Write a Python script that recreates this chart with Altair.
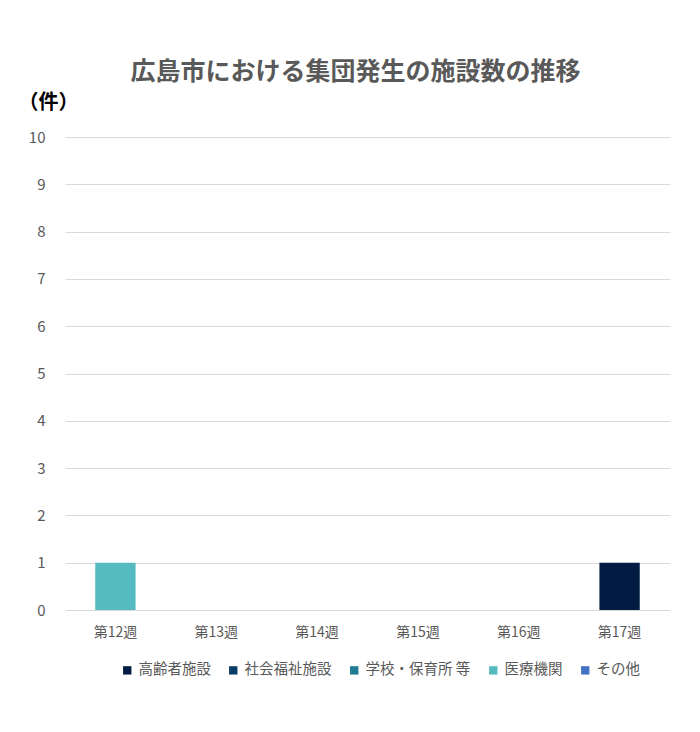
import altair as alt
import pandas as pd

weeks = ["第12週", "第13週", "第14週", "第15週", "第16週", "第17週"]
categories = ["高齢者施設", "社会福祉施設", "学校・保育所 等", "医療機関", "その他"]
colors = ["#021B42", "#0A3D66", "#1F7B91", "#55BBC0", "#4472C4"]
counts = {
    "高齢者施設":     [0, 0, 0, 0, 0, 1],
    "社会福祉施設":   [0, 0, 0, 0, 0, 0],
    "学校・保育所 等": [0, 0, 0, 0, 0, 0],
    "医療機関":       [1, 0, 0, 0, 0, 0],
    "その他":         [0, 0, 0, 0, 0, 0],
}

rows = []
for ci, c in enumerate(categories):
    for w, v in zip(weeks, counts[c]):
        rows.append({"週": w, "種別": c, "件数": v, "順": ci})
df = pd.DataFrame(rows)

FONT = "Noto Sans CJK JP"
GRAY = "#595959"

chart = alt.Chart(df).mark_bar().encode(
    x=alt.X("週:N", sort=weeks, title=None,
            scale=alt.Scale(paddingInner=0.6, paddingOuter=0.3),
            axis=alt.Axis(labelAngle=0, labelFontSize=14, labelColor=GRAY,
                          labelFont=FONT, ticks=False, domain=False,
                          labelPadding=15)),
    y=alt.Y("件数:Q", stack="zero",
            scale=alt.Scale(domain=[0, 10]),
            axis=alt.Axis(values=list(range(0, 11)), grid=True, gridColor="#D9D9D9",
                          ticks=False, domain=False, labelFontSize=15,
                          labelColor=GRAY, labelFont=FONT, labelPadding=20,
                          title="（件）", titleAngle=0, titleFont=FONT,
                          titleFontSize=20, titleFontWeight="bold", titleColor="#000000",
                          titleX=-47, titleY=-29, titleAlign="left",
                          titleBaseline="alphabetic")),
    color=alt.Color("種別:N", sort=categories,
                    scale=alt.Scale(domain=categories, range=colors),
                    legend=alt.Legend(orient="none", direction="horizontal",
                                      legendX=55, legendY=526,
                                      title=None, symbolType="square",
                                      symbolSize=70, symbolStrokeWidth=0,
                                      labelFontSize=14.5, labelColor=GRAY,
                                      labelFont=FONT, columnPadding=15,
                                      labelOffset=4)),
    order=alt.Order("順:Q"),
).properties(
    width=605,
    height=473,
    background="white",
    title=alt.TitleParams("広島市における集団発生の施設数の推移", fontSize=25,
                          font=FONT, fontWeight="bold", color=GRAY,
                          anchor="middle", offset=7, dx=-12),
    autosize=alt.AutoSizeParams(type="none"),
    padding={"left": 57, "top": 129, "right": 22, "bottom": 100},
).configure_view(strokeWidth=0)

chart.save("out.html", embed_options={"renderer": "svg", "actions": False})
